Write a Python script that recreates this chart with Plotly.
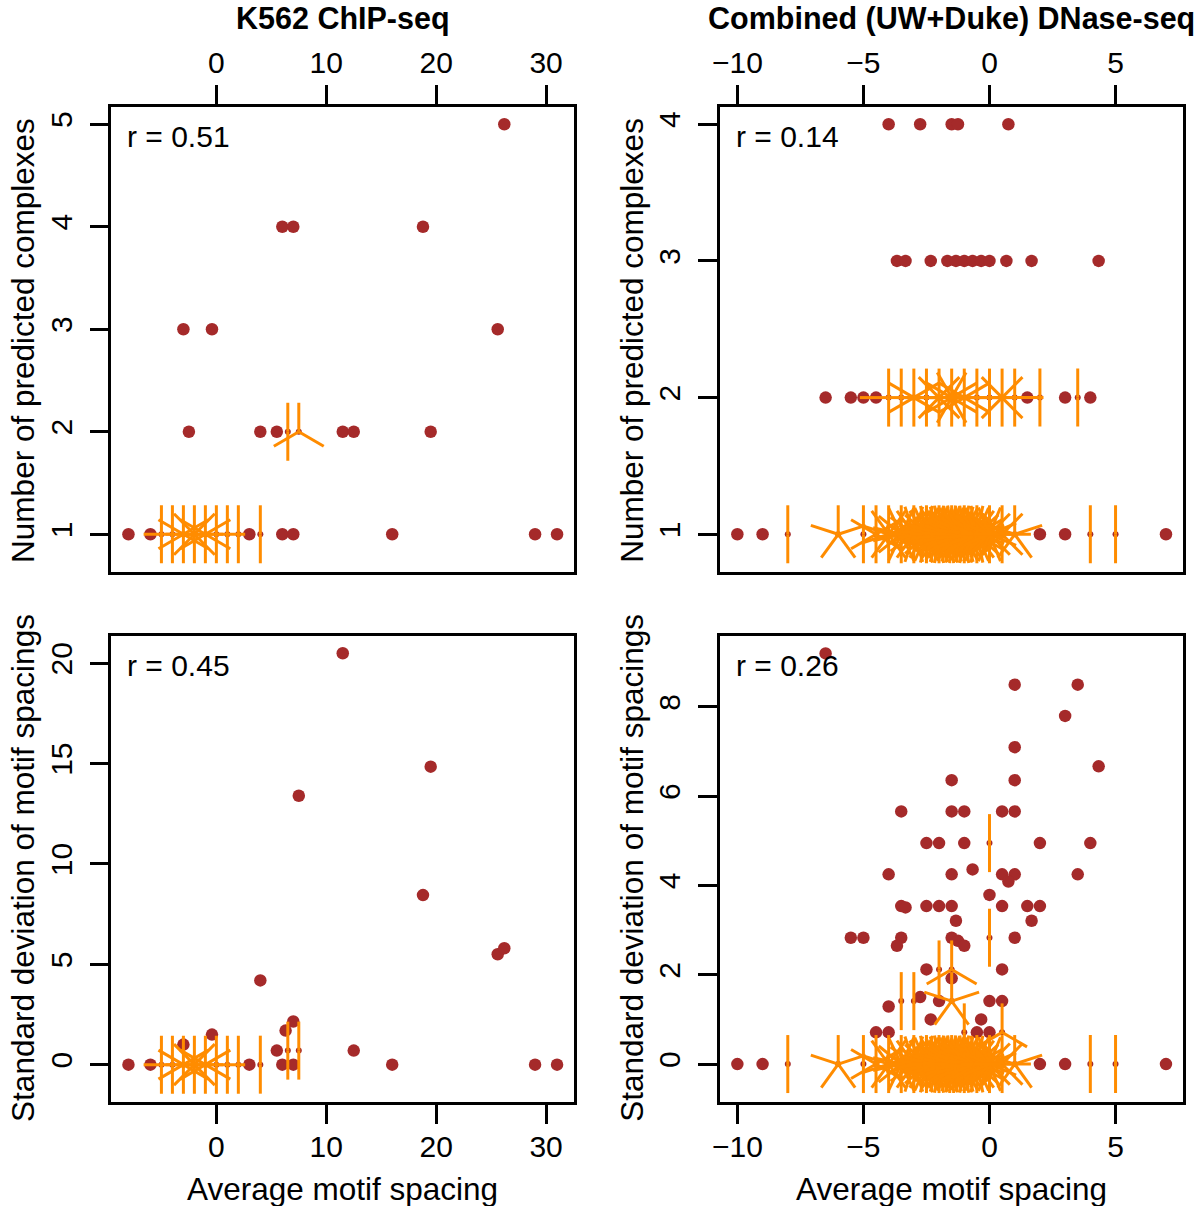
import math
import plotly.graph_objects as go

BROWN = "#A52A2A"
ORANGE = "#FF8C00"
FONT = "Liberation Sans, Arial, Helvetica, sans-serif"

# ---------------- data (x = average motif spacing, y = value, n = multiplicity) ----
# Top-left: K562 ChIP-seq, number of predicted complexes
tl_x = [26.2, 6, 7, 18.8, -3, -0.4, 25.6,
        -2.5, 4, 5.5, 6.5, 7.5, 11.5, 12.5, 19.5,
        -8, -6, -5, -4, -3, -2, -1, 0, 1, 2, 3, 4, 6, 7, 16, 29, 31]
tl_y = [5, 4, 4, 4, 3, 3, 3,
        2, 2, 2, 2, 2, 2, 2, 2,
        1, 1, 1, 1, 1, 1, 1, 1, 1, 1, 1, 1, 1, 1, 1, 1, 1]
tl_n = [1, 1, 1, 1, 1, 1, 1,
        1, 1, 1, 2, 3, 1, 1, 1,
        1, 1, 2, 4, 6, 8, 6, 4, 2, 2, 1, 2, 1, 1, 1, 1, 1]

# Bottom-left: K562 ChIP-seq, standard deviation of motif spacings
bl_x = [11.5, 19.5, 7.5, 18.8, 25.6, 26.2, 4, -0.4, 12.5, 5.5, 6.5, 7.5, 6.3, 7, -3,
        -8, -6, -5, -4, -3, -2, -1, 0, 1, 2, 3, 4, 6, 7, 16, 29, 31]
bl_y = [20.5, 14.85, 13.4, 8.45, 5.5, 5.8, 4.2, 1.5, 0.7, 0.7, 0.7, 0.7, 1.7, 2.15, 1.0,
        0, 0, 0, 0, 0, 0, 0, 0, 0, 0, 0, 0, 0, 0, 0, 0, 0]
bl_n = [1, 1, 1, 1, 1, 1, 1, 1, 1, 1, 2, 2, 1, 1, 1,
        1, 1, 2, 4, 6, 8, 6, 4, 2, 2, 1, 2, 1, 1, 1, 1, 1]

# Top-right: Combined (UW+Duke) DNase-seq, number of predicted complexes
tr_x = [-4, -2.75, -1.5, -1.25, 0.75,
        -3.67, -3.33, -2.33, -1.67, -1.33, -1, -0.67, -0.33, 0, 0.67, 1.67, 4.33,
        -6.5, -5.5, -5, -4.5, -4, -3.5, -3, -2.5, -2, -1.5, -1, -0.5, 0, 0.5, 1, 1.5, 2, 3, 3.5, 4,
        -10, -9, -8, -6, -5, -4.5, -4, -3.5, -3, -2.5, -2, -1.5, -1, -0.5, 0, 0.5, 1, 2, 3, 4, 5, 7]
tr_y = [4, 4, 4, 4, 4,
        3, 3, 3, 3, 3, 3, 3, 3, 3, 3, 3, 3,
        2, 2, 2, 2, 2, 2, 2, 2, 2, 2, 2, 2, 2, 2, 2, 2, 2, 2, 2, 2,
        1, 1, 1, 1, 1, 1, 1, 1, 1, 1, 1, 1, 1, 1, 1, 1, 1, 1, 1, 1, 1, 1]
tr_n = [1, 1, 1, 1, 1,
        1, 1, 1, 1, 1, 1, 1, 1, 1, 1, 1, 1,
        1, 1, 1, 1, 4, 2, 6, 4, 8, 12, 6, 4, 2, 8, 4, 1, 2, 1, 2, 1,
        1, 1, 2, 5, 2, 6, 10, 14, 20, 30, 40, 45, 40, 30, 16, 8, 5, 1, 1, 2, 2, 1]

# Bottom-right: Combined (UW+Duke) DNase-seq, standard deviation of motif spacings
br_x = [-6.5, 1, 3.5, 3, 1, 4.33, -1.5, 1, -3.5, -1.5, -1, 0.5, 1,
        -2.5, -2, -1, 0, 2, 4, -4, -1.5, -0.67, 0.5, 1, 0.75, 3.5, 0,
        -3.5, -3.33, -2.5, -2, -1.5, 0.5, 1.5, 2, -1.33, 1.67,
        -5.5, -5, -3.5, -3.67, -1.5, -1.25, -1, 0, 1,
        -2.5, -2, -1.5, 0.5, -1.5, -4, -3.5, -3, -2.75, -2, -1.5, 0, 0.5,
        -2.33, -0.33, -4.5, -4, -1, -0.5, 0, 0.5,
        -10, -9, -8, -6, -5, -4.5, -4, -3.5, -3, -2.5, -2, -1.5, -1, -0.5, 0, 0.5, 1, 2, 3, 4, 5, 7]
br_y = [9.2, 8.5, 8.5, 7.8, 7.1, 6.67, 6.36, 6.36, 5.66, 5.66, 5.66, 5.66, 5.66,
        4.95, 4.95, 4.95, 4.95, 4.95, 4.95, 4.25, 4.25, 4.36, 4.25, 4.25, 4.09, 4.25, 3.79,
        3.54, 3.51, 3.54, 3.54, 3.54, 3.54, 3.54, 3.54, 3.21, 3.21,
        2.83, 2.83, 2.83, 2.65, 2.83, 2.76, 2.65, 2.83, 2.83,
        2.12, 2.12, 2.12, 2.12, 1.92, 1.29, 1.41, 1.41, 1.5, 1.41, 1.41, 1.41, 1.41,
        1.0, 1.0, 0.71, 0.71, 0.71, 0.71, 0.71, 0.71,
        0, 0, 0, 0, 0, 0, 0, 0, 0, 0, 0, 0, 0, 0, 0, 0, 0, 0, 0, 0, 0, 0]
br_n = [1, 1, 1, 1, 1, 1, 1, 1, 1, 1, 1, 1, 1,
        1, 1, 1, 2, 1, 1, 1, 1, 1, 1, 1, 1, 1, 1,
        1, 1, 1, 1, 1, 1, 1, 1, 1, 1,
        1, 1, 1, 1, 1, 1, 1, 2, 1,
        1, 2, 3, 1, 1, 1, 2, 2, 1, 1, 5, 1, 1,
        1, 1, 1, 1, 2, 1, 1, 3,
        1, 1, 2, 5, 2, 6, 10, 14, 20, 30, 40, 45, 40, 30, 16, 8, 5, 1, 1, 2, 2, 1]

# correlation labels, titles, ticks
r_labels = ["r = 0.51", "r = 0.14", "r = 0.45", "r = 0.26"]
col_titles = ["K562 ChIP-seq", "Combined (UW+Duke) DNase-seq"]
row_titles = ["Number of predicted complexes", "Standard deviation of motif spacings"]
x_title = "Average motif spacing"
ticks_x_left = [0, 10, 20, 30]
ticks_x_right = [-10, -5, 0, 5]
ticks_y_tl = [1, 2, 3, 4, 5]
ticks_y_tr = [1, 2, 3, 4]
ticks_y_bl = [0, 5, 10, 15, 20]
ticks_y_br = [0, 2, 4, 6, 8]

# ---------------- layout geometry (pixels) ----------------
W, H = 1200, 1206
COLS = [(104, 570), (717, 1183)]
ROWS = [(107, 572), (636, 1102)]
PETAL = 29

panels = [
    dict(x=tl_x, y=tl_y, n=tl_n, col=0, row=0, xr=[-9.56, 32.56], yr=[0.632, 5.168],
         xt=ticks_x_left, yt=ticks_y_tl),
    dict(x=tr_x, y=tr_y, n=tr_n, col=1, row=0, xr=[-10.68, 7.68], yr=[0.724, 4.126],
         xt=ticks_x_right, yt=ticks_y_tr),
    dict(x=bl_x, y=bl_y, n=bl_n, col=0, row=1, xr=[-9.56, 32.56], yr=[-1.86, 21.36],
         xt=ticks_x_left, yt=ticks_y_bl),
    dict(x=br_x, y=br_y, n=br_n, col=1, row=1, xr=[-10.68, 7.68], yr=[-0.85, 9.59],
         xt=ticks_x_right, yt=ticks_y_br),
]

fig = go.Figure()
layout = dict(width=W, height=H, margin=dict(l=0, r=0, t=0, b=0),
              paper_bgcolor="white", plot_bgcolor="white", showlegend=False,
              font=dict(family=FONT, color="black"))

for i, p in enumerate(panels):
    k = "" if i == 0 else str(i + 1)
    xa, ya = "x" + k, "y" + k
    c0, c1 = COLS[p["col"]]
    r0, r1 = ROWS[p["row"]]
    sx = (c1 - c0) / (p["xr"][1] - p["xr"][0])
    sy = (r1 - r0) / (p["yr"][1] - p["yr"][0])

    sx_s = [a for a, m in zip(p["x"], p["n"]) if m == 1]
    sy_s = [b for b, m in zip(p["y"], p["n"]) if m == 1]
    mx = [a for a, m in zip(p["x"], p["n"]) if m > 1]
    my = [b for b, m in zip(p["y"], p["n"]) if m > 1]
    fig.add_trace(go.Scatter(x=sx_s, y=sy_s, mode="markers", xaxis=xa, yaxis=ya,
                             marker=dict(color=BROWN, size=12.5, line=dict(width=0)),
                             hoverinfo="skip"))
    fig.add_trace(go.Scatter(x=mx, y=my, mode="markers", xaxis=xa, yaxis=ya,
                             marker=dict(color=BROWN, size=6, line=dict(width=0)),
                             hoverinfo="skip"))
    px_, py_ = [], []
    for a, b, m in zip(p["x"], p["y"], p["n"]):
        if m > 1:
            for j in range(1, m + 1):
                d = 2 * math.pi * j / m
                px_ += [a, a + PETAL * math.sin(d) / sx, None]
                py_ += [b, b + PETAL * math.cos(d) / sy, None]
    fig.add_trace(go.Scatter(x=px_, y=py_, mode="lines", xaxis=xa, yaxis=ya,
                             line=dict(color=ORANGE, width=3), hoverinfo="skip"))

    common = dict(showgrid=False, zeroline=False, showline=True, mirror=True,
                  linecolor="black", linewidth=2.5, ticks="outside", ticklen=19,
                  tickwidth=2.5, tickcolor="black",
                  tickfont=dict(family=FONT, size=30, color="black"))
    top = p["row"] == 0
    layout["xaxis" + k] = dict(common, domain=[c0 / W, c1 / W], range=p["xr"],
                               anchor=ya, side="top" if top else "bottom",
                               tickmode="array", tickvals=p["xt"],
                               ticklabelstandoff=0 if top else -3)
    layout["yaxis" + k] = dict(common, domain=[1 - r1 / H, 1 - r0 / H], range=p["yr"],
                               anchor=xa, tickmode="array", tickvals=p["yt"],
                               tickangle=-90, ticklabelstandoff=6)

ann = []
def a_(text, x, y, size=31.5, angle=0, bold=False, xanchor="center", yanchor="middle"):
    ann.append(dict(text=("<b>%s</b>" % text) if bold else text, x=x / W, y=1 - y / H,
                    xref="paper", yref="paper", showarrow=False, textangle=angle,
                    xanchor=xanchor, yanchor=yanchor, borderpad=0,
                    font=dict(family=FONT, size=size, color="black")))

a_(col_titles[0], 337, 0, size=30.5, bold=True, yanchor="top")
a_(col_titles[1], 950, 0, size=30.5, bold=True, yanchor="top")
a_(row_titles[0], 15, 340, angle=-90)
a_(row_titles[0], 628, 340, angle=-90)
a_(row_titles[1], 15, 868, angle=-90)
a_(row_titles[1], 628, 868, angle=-90)
a_(x_title, 337, 1189)
a_(x_title, 950, 1189)
a_(r_labels[0], 119, 136, size=30, xanchor="left")
a_(r_labels[1], 732, 136, size=30, xanchor="left")
a_(r_labels[2], 119, 665, size=30, xanchor="left")
a_(r_labels[3], 732, 665, size=30, xanchor="left")
layout["annotations"] = ann

fig.update_layout(**layout)
fig.write_html("out.html", config={"displayModeBar": False},
               post_script="document.body.style.margin='0';document.body.style.overflow='hidden';")
